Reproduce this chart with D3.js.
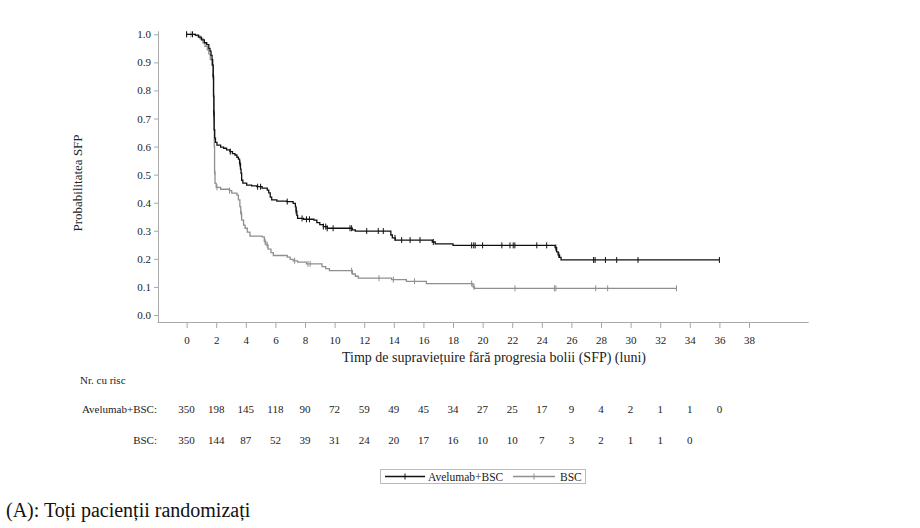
<!DOCTYPE html>
<meta charset="utf-8">
<head>
  <title>SFP Kaplan-Meier</title>
  <style>
    body { margin: 0; background: #fff; }
    svg { font-family: "Liberation Serif", "Times New Roman", serif; }
  </style>
  <script src="https://d3js.org/d3.v7.min.js"></script>
</head>
<body>
  <div id="content"></div>

  <script>
    // Kaplan-Meier steps: [month, survival after step]
    var aveSteps = [[0,1.0],[0.6,0.997],[0.8,0.99],[1.0,0.98],[1.2,0.97],[1.36,0.963],[1.5,0.95],[1.58,0.94],
      [1.65,0.925],[1.72,0.91],[1.76,0.89],[1.8,0.85],[1.82,0.78],[1.84,0.72],[1.86,0.66],[1.9,0.63],[1.95,0.615],
      [2.05,0.605],[2.3,0.598],[2.5,0.594],[2.7,0.588],[2.93,0.582],[3.1,0.575],[3.27,0.57],[3.4,0.562],[3.5,0.555],
      [3.58,0.54],[3.64,0.52],[3.68,0.505],[3.72,0.48],[3.8,0.47],[4.06,0.463],[4.4,0.46],[4.74,0.457],[5.1,0.452],
      [5.45,0.445],[5.55,0.435],[5.65,0.42],[5.75,0.41],[6.1,0.406],[6.76,0.404],[7.2,0.398],[7.35,0.385],[7.4,0.37],
      [7.45,0.355],[7.5,0.344],[7.9,0.341],[8.6,0.338],[8.8,0.329],[9.0,0.322],[9.24,0.315],[9.5,0.309],[11.2,0.303],
      [11.4,0.299],[13.8,0.285],[13.9,0.275],[14.1,0.267],[16.6,0.26],[16.8,0.253],[18.0,0.248],[24.9,0.24],
      [25.0,0.225],[25.1,0.214],[25.2,0.205],[25.3,0.196]];
    var aveEnd = 36.0;
    var aveCensor = [0, 0.4, 1.8, 1.84, 2.95, 3.6, 4.8, 5.0, 6.8, 7.4, 7.8, 8.1, 8.3, 9.24, 9.4, 9.5, 9.9, 11.04,
      11.15, 12.17, 12.95, 13.29, 14.08, 14.53, 15.1, 15.77, 16.67, 19.26, 19.4, 19.5, 20.0, 21.3, 21.85, 22.07, 22.18,
      23.66, 24.33, 24.95, 25.15, 27.5, 27.6, 28.3, 29.06, 30.5, 36.0];

    var bscSteps = [[0,1.0],[0.6,0.995],[0.9,0.985],[1.1,0.97],[1.24,0.957],[1.4,0.945],[1.5,0.93],[1.6,0.91],
      [1.7,0.89],[1.78,0.85],[1.82,0.78],[1.85,0.70],[1.87,0.60],[1.89,0.51],[1.92,0.469],[2.0,0.455],[2.3,0.448],
      [2.9,0.443],[3.05,0.434],[3.4,0.427],[3.5,0.41],[3.6,0.386],[3.66,0.36],[3.72,0.338],[3.85,0.32],[3.95,0.309],
      [4.1,0.295],[4.28,0.281],[5.1,0.278],[5.25,0.262],[5.35,0.25],[5.5,0.235],[5.7,0.222],[5.86,0.212],[6.8,0.206],
      [7.0,0.198],[7.2,0.193],[7.5,0.188],[8.1,0.182],[9.15,0.172],[9.4,0.165],[9.65,0.158],[11.2,0.146],[11.4,0.138],
      [11.6,0.131],[13.85,0.126],[14.85,0.12],[16.2,0.112],[19.35,0.1],[19.45,0.095]];
    var bscEnd = 33.1;
    var bscCensor = [0, 0.3, 1.83, 1.86, 1.89, 2.05, 2.9, 3.7, 5.3, 5.45, 7.3, 8.2, 8.35, 11.15, 13.0, 13.97, 15.4,
      19.26, 19.42, 22.19, 24.85, 24.95, 27.64, 28.45, 33.1];

    var xTicks = d3.range(0, 39, 2);
    var yTicks = d3.range(0, 11).map(function (i) { return i / 10; });

    var riskTimes = d3.range(0, 37, 2);
    var aveRisk = [350, 198, 145, 118, 90, 72, 59, 49, 45, 34, 27, 25, 17, 9, 4, 2, 1, 1, 0];
    var bscRisk = [350, 144, 87, 52, 39, 31, 24, 20, 17, 16, 10, 10, 7, 3, 2, 1, 1, 0];

    var aveColor = '#111';
    var bscColor = '#8f8f8f';
    var axisColor = '#a8a8a8';

    var svg = d3.select('#content').append('svg')
      .attr('width', 920)
      .attr('height', 528);

    var x = d3.scaleLinear().domain([-2, 42]).range([157, 808.2]);
    var y = d3.scaleLinear().domain([-0.025, 1.0125]).range([322, 30.8]);

    // axes
    var yAxis = svg.append('g')
      .attr('transform', 'translate(158,0)')
      .call(d3.axisLeft(y).tickValues(yTicks).tickFormat(d3.format('.1f')).tickSize(4).tickSizeOuter(0).tickPadding(3));

    var xAxis = svg.append('g')
      .attr('transform', 'translate(0,322)')
      .call(d3.axisBottom(x).tickValues(xTicks).tickSize(6).tickSizeOuter(0).tickPadding(8));

    [yAxis, xAxis].forEach(function (a) {
      a.select('.domain').attr('stroke', axisColor);
      a.selectAll('.tick line').attr('stroke', axisColor);
      a.selectAll('.tick text')
        .attr('fill', '#222')
        .style('font-family', '"Liberation Serif", serif')
        .style('font-size', '11px');
    });

    svg.append('text')
      .attr('transform', 'translate(82,183) rotate(-90)')
      .attr('text-anchor', 'middle')
      .style('font-size', '13px')
      .attr('fill', '#222')
      .text('Probabilitatea SFP');

    svg.append('text')
      .attr('x', 494)
      .attr('y', 362)
      .attr('text-anchor', 'middle')
      .style('font-size', '14px')
      .attr('fill', '#222')
      .text('Timp de supraviețuire fără progresia bolii (SFP) (luni)');

    // curves
    var line = d3.line()
      .x(function (d) { return x(d[0]); })
      .y(function (d) { return y(d[1]); })
      .curve(d3.curveStepAfter);

    var bis = d3.bisector(function (d) { return d[0]; }).right;

    function drawCurve(steps, end, censor, color) {
      var pts = steps.concat([[end, steps[steps.length - 1][1]]]);
      svg.append('path')
        .datum(pts)
        .attr('fill', 'none')
        .attr('stroke', color)
        .attr('stroke-width', 1.3)
        .attr('d', line);

      svg.append('g').selectAll('line')
        .data(censor)
        .join('line')
        .attr('x1', function (d) { return x(d); })
        .attr('x2', function (d) { return x(d); })
        .attr('y1', function (d) { return y(steps[Math.max(0, bis(steps, d) - 1)][1]) - 3; })
        .attr('y2', function (d) { return y(steps[Math.max(0, bis(steps, d) - 1)][1]) + 3; })
        .attr('stroke', color)
        .attr('stroke-width', 1);
    }

    drawCurve(bscSteps, bscEnd, bscCensor, bscColor);
    drawCurve(aveSteps, aveEnd, aveCensor, aveColor);

    // risk table
    svg.append('text')
      .attr('x', 80).attr('y', 384)
      .style('font-size', '11px').attr('fill', '#222')
      .text('Nr. cu risc');

    function riskRow(label, values, yPos) {
      svg.append('text')
        .attr('x', 157).attr('y', yPos)
        .attr('text-anchor', 'end')
        .style('font-size', '11px').attr('fill', '#222')
        .text(label);
      svg.append('g').selectAll('text')
        .data(values)
        .join('text')
        .attr('x', function (d, i) { return x(riskTimes[i]); })
        .attr('y', yPos)
        .attr('text-anchor', 'middle')
        .style('font-size', '11px').attr('fill', '#222')
        .text(function (d) { return d; });
    }
    riskRow('Avelumab+BSC:', aveRisk, 413);
    riskRow('BSC:', bscRisk, 444);

    // legend
    var lg = svg.append('g');
    lg.append('rect')
      .attr('x', 380.5).attr('y', 469.5).attr('width', 205).attr('height', 14)
      .attr('fill', 'none').attr('stroke', '#bbb');
    var items = [
      { name: 'Avelumab+BSC', color: aveColor, x0: 385, x1: 425, tx: 428 },
      { name: 'BSC', color: bscColor, x0: 513, x1: 555, tx: 560 }
    ];
    items.forEach(function (it) {
      lg.append('line').attr('x1', it.x0).attr('x2', it.x1).attr('y1', 476.5).attr('y2', 476.5)
        .attr('stroke', it.color).attr('stroke-width', 1.3);
      var mid = (it.x0 + it.x1) / 2;
      lg.append('line').attr('x1', mid).attr('x2', mid).attr('y1', 473.5).attr('y2', 479.5)
        .attr('stroke', it.color).attr('stroke-width', 1);
      lg.append('text').attr('x', it.tx).attr('y', 480.5)
        .style('font-size', '11.5px').attr('fill', '#222')
        .text(it.name);
    });

    svg.append('text')
      .attr('x', 6).attr('y', 517)
      .style('font-size', '20px').attr('fill', '#111')
      .text('(A): Toți pacienții randomizați');
  </script>
</body>
</html>
